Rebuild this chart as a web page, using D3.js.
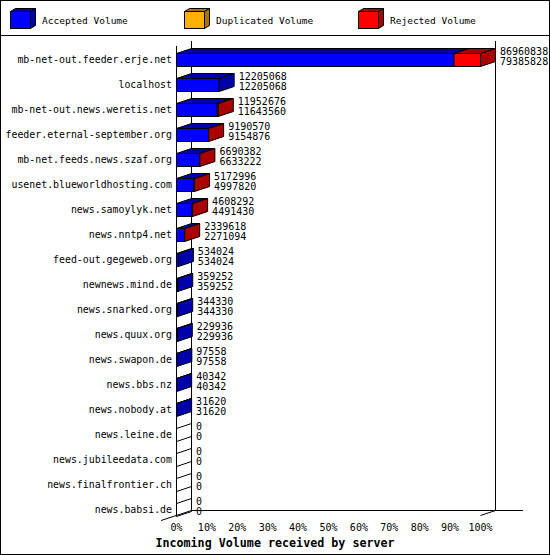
<!DOCTYPE html>
<html>
<head>
<meta charset="utf-8">
<script src="https://cdn.jsdelivr.net/npm/d3@7"></script>
<style>
  body { margin: 0; background: #fff; }
  text { font-family: "DejaVu Sans Mono", monospace; fill: #000; }
</style>
</head>
<body>
<div class="chart"></div>
<script>
// data
var servers = [
    "mb-net-out.feeder.erje.net", "localhost", "mb-net-out.news.weretis.net",
    "feeder.eternal-september.org", "mb-net.feeds.news.szaf.org",
    "usenet.blueworldhosting.com", "news.samoylyk.net", "news.nntp4.net",
    "feed-out.gegeweb.org", "newnews.mind.de", "news.snarked.org",
    "news.quux.org", "news.swapon.de", "news.bbs.nz", "news.nobody.at",
    "news.leine.de", "news.jubileedata.com", "news.finalfrontier.ch", "news.babsi.de"
];
var totalVolume = [86960838, 12205068, 11952676, 9190570, 6690382, 5172996, 4608292,
    2339618, 534024, 359252, 344330, 229936, 97558, 40342, 31620, 0, 0, 0, 0];
var acceptedVolume = [79385828, 12205068, 11643560, 9154876, 6633222, 4997820, 4491430,
    2271094, 534024, 359252, 344330, 229936, 97558, 40342, 31620, 0, 0, 0, 0];
var duplicatedVolume = [0, 0, 0, 0, 0, 0, 0, 0, 0, 0, 0, 0, 0, 0, 0, 0, 0, 0, 0];
var seriesNames = ["Accepted Volume", "Duplicated Volume", "Rejected Volume"];
var percentTicks = [0, 10, 20, 30, 40, 50, 60, 70, 80, 90, 100];

var colors = {
    front: ["#0000ff", "#ffb000", "#ff0000"],
    side:  ["#0000aa", "#aa7400", "#aa0000"]
};

var W = 550, H = 555;
var dx = 15, dy = 5;          // 3d depth
var floorY = 515;

var svg = d3.select(".chart").append("svg")
    .attr("width", W)
    .attr("height", H);

// frame + legend separator
svg.append("rect")
    .attr("x", 0.5).attr("y", 0.5)
    .attr("width", W - 1).attr("height", H - 1)
    .attr("fill", "#fff").attr("stroke", "#000");
svg.append("line")
    .attr("x1", 0).attr("x2", W).attr("y1", 35.5).attr("y2", 35.5)
    .attr("stroke", "#000");

// legend
var legend = svg.selectAll("g.legend")
    .data(seriesNames)
    .enter().append("g")
    .attr("class", "legend")
    .attr("transform", function(d, i) { return "translate(" + (10 + i * 174) + ",0)"; });

legend.append("polygon")
    .attr("points", "0.5,11.5 5.5,8.5 25.5,8.5 20.5,11.5")
    .attr("fill", function(d, i) { return colors.side[i]; })
    .attr("stroke", "#000");
legend.append("polygon")
    .attr("points", "20.5,11.5 25.5,8.5 25.5,25.5 20.5,28.5")
    .attr("fill", function(d, i) { return colors.side[i]; })
    .attr("stroke", "#000");
legend.append("rect")
    .attr("x", 0.5).attr("y", 11.5)
    .attr("width", 20).attr("height", 17)
    .attr("fill", function(d, i) { return colors.front[i]; })
    .attr("stroke", "#000");
legend.append("text")
    .attr("x", 32).attr("y", 23.5)
    .style("font-size", "9.5px")
    .text(function(d) { return d; });

// scales
var maxTotal = d3.max(totalVolume);
var x = d3.scaleLinear().domain([0, 100]).range([176, 480]);
var y = d3.scaleBand().domain(servers).range([46.5, 521.5]);
function pct(v) { return v / maxTotal * 100; }
function cy(d) { return Math.round(y(d) + y.bandwidth() / 2); }

// walls
var walls = svg.append("g").attr("stroke", "#000").attr("fill", "none");
walls.append("line").attr("x1", 191.5).attr("x2", 191.5).attr("y1", 41).attr("y2", floorY - dy);
walls.append("line").attr("x1", 495.5).attr("x2", 495.5).attr("y1", 41).attr("y2", floorY - dy);
walls.append("line").attr("x1", 176.5).attr("x2", 176.5).attr("y1", 46).attr("y2", floorY);
walls.append("line").attr("x1", 191).attr("x2", 523).attr("y1", floorY - dy + 0.5).attr("y2", floorY - dy + 0.5);
walls.append("line").attr("x1", 161).attr("y1", floorY + 5.5).attr("x2", 191.5).attr("y2", floorY - dy + 0.5);
walls.append("line").attr("x1", x(100) + 0.5).attr("y1", floorY + 0.5).attr("x2", x(100) + dx + 0.5).attr("y2", floorY - dy + 0.5);

// bars
var rows = servers.map(function(s, i) {
    var acc = acceptedVolume[i], dup = duplicatedVolume[i];
    var rej = totalVolume[i] - acc - dup;
    var segs = [];
    var start = 0;
    [acc, dup, rej].forEach(function(v, k) {
        if (v > 0) segs.push({ k: k, x0: x(pct(start)), x1: x(pct(start + v)) });
        start += v;
    });
    return { name: s, total: totalVolume[i], accepted: acc, segs: segs };
});

var bar = svg.selectAll("g.bar")
    .data(rows)
    .enter().append("g")
    .attr("class", "bar");

bar.each(function(d) {
    var g = d3.select(this);
    var c = cy(d.name);
    var t = c - 6 + 0.5, b = c + 7 + 0.5;
    if (d.segs.length === 0) {
        // empty bar: only the outline of its side
        var x0 = x(0) + 0.5;
        g.append("polygon")
            .attr("points", [[x0, t], [x0 + dx, t - dy], [x0 + dx, b - dy], [x0, b]].join(" "))
            .attr("fill", "none").attr("stroke", "#000");
        return;
    }
    d.segs.forEach(function(s) {
        var a = s.x0 + 0.5, e = s.x1 + 0.5;
        g.append("polygon")
            .attr("points", [[a, t], [a + dx, t - dy], [e + dx, t - dy], [e, t]].join(" "))
            .attr("fill", colors.side[s.k]).attr("stroke", "#000");
        g.append("rect")
            .attr("x", a).attr("y", t)
            .attr("width", Math.max(0, e - a)).attr("height", b - t)
            .attr("fill", colors.front[s.k]).attr("stroke", "#000");
    });
    var last = d.segs[d.segs.length - 1];
    var e = last.x1 + 0.5;
    g.append("polygon")
        .attr("points", [[e, t], [e + dx, t - dy], [e + dx, b - dy], [e, b]].join(" "))
        .attr("fill", colors.side[last.k]).attr("stroke", "#000");
});

// value labels
bar.append("text")
    .attr("x", function(d) { return x(pct(d.total)) + dx + 5; })
    .attr("y", function(d) { return cy(d.name) - 4.5; })
    .style("font-size", "10px")
    .text(function(d) { return d.total; });
bar.append("text")
    .attr("x", function(d) { return x(pct(d.total)) + dx + 5; })
    .attr("y", function(d) { return cy(d.name) + 5.5; })
    .style("font-size", "10px")
    .text(function(d) { return d.accepted; });

// category labels
svg.append("g")
    .selectAll("text")
    .data(servers)
    .enter().append("text")
    .attr("x", 172)
    .attr("y", function(d) { return cy(d) + 4; })
    .attr("text-anchor", "end")
    .style("font-size", "9.9px")
    .text(function(d) { return d; });

// percent axis
var axis = d3.axisBottom(x)
    .tickValues(percentTicks)
    .tickSize(0)
    .tickPadding(0)
    .tickFormat(function(d) { return d + "%"; });
var ax = svg.append("g")
    .attr("transform", "translate(0," + 524 + ")")
    .call(axis);
ax.select(".domain").remove();
ax.selectAll("text")
    .attr("dy", "0.71em")
    .style("font-family", "DejaVu Sans Mono")
    .style("font-size", "10px");

svg.append("text")
    .attr("x", W / 2)
    .attr("y", 546.5)
    .attr("text-anchor", "middle")
    .style("font-size", "11.7px")
    .style("font-weight", "bold")
    .text("Incoming Volume received by server");
</script>
</body>
</html>
